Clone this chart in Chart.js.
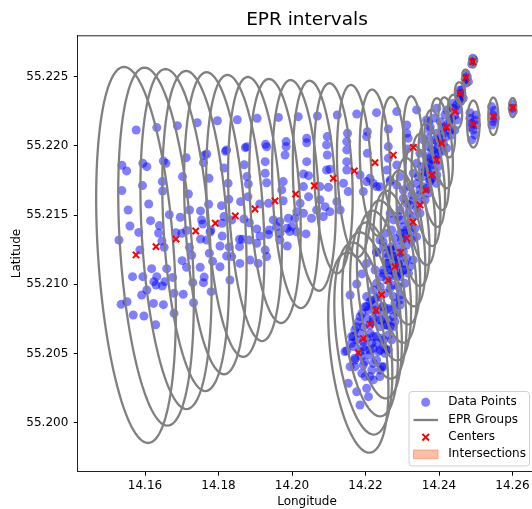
<!DOCTYPE html>
<html>
<head>
<meta charset="utf-8">
<script src="https://cdn.jsdelivr.net/npm/chart.js@4.4.0/dist/chart.umd.min.js"></script>
<style>
  html, body { margin: 0; padding: 0; background: #fff; overflow: hidden; }
  #chart { display: block; }
</style>
</head>
<body>
<canvas id="chart" width="545" height="509"></canvas>
<script>
// axis ticks
const xTicks = [14.16, 14.18, 14.20, 14.22, 14.24, 14.26];
const yTicks = [55.200, 55.205, 55.210, 55.215, 55.220, 55.225];

// observed positions
const pointLon = [
  14.1576, 14.1632, 14.1688, 14.1742, 14.1797, 14.1851, 14.1905, 14.1537, 14.1550, 14.1594,
  14.1605, 14.1650, 14.1657, 14.1712, 14.1761, 14.1768, 14.1819, 14.1822, 14.1873, 14.1877,
  14.1928, 14.1931, 14.1702, 14.1759, 14.1815, 14.1870, 14.1927, 14.1593, 14.1647, 14.1648,
  14.1537, 14.1718, 14.1774, 14.1826, 14.1877, 14.1881, 14.1927, 14.1931, 14.1554, 14.1610,
  14.1666, 14.1721, 14.1751, 14.1773, 14.1808, 14.1828, 14.1860, 14.1880, 14.1912, 14.1936,
  14.1559, 14.1583, 14.1615, 14.1637, 14.1639, 14.1696, 14.1713, 14.1754, 14.1757, 14.1779,
  14.1810, 14.1815, 14.1836, 14.1857, 14.1869, 14.1884, 14.1904, 14.1938, 14.1529, 14.1586,
  14.1646, 14.1652, 14.1684, 14.1700, 14.1721, 14.1751, 14.1768, 14.1777, 14.1804, 14.1810,
  14.1829, 14.1857, 14.1865, 14.1883, 14.1904, 14.1913, 14.1936, 14.1566, 14.1594, 14.1618,
  14.1632, 14.1659, 14.1675, 14.1701, 14.1713, 14.1727, 14.1750, 14.1761, 14.1775, 14.1784,
  14.1804, 14.1822, 14.1836, 14.1858, 14.1886, 14.1908, 14.1927, 14.1931,
  14.1730, 14.1759, 14.1831, 14.1605, 14.1591, 14.1624, 14.1630, 14.1647, 14.1654, 14.1679,
  14.1704, 14.1732, 14.1780, 14.1535, 14.1551, 14.1623, 14.1650, 14.1568, 14.1597, 14.1679,
  14.1629,
  14.1963, 14.2017, 14.2069, 14.2123, 14.2176, 14.2230, 14.1984, 14.1984, 14.2040, 14.2040,
  14.2096, 14.2094, 14.2151, 14.2149, 14.2205, 14.2203, 14.1981, 14.2040, 14.2096, 14.2149,
  14.2205, 14.1976, 14.2031, 14.2045, 14.2094, 14.2103, 14.2149, 14.2149, 14.2185, 14.2203,
  14.2212, 14.1972, 14.2031, 14.2076, 14.2099, 14.2140, 14.2153, 14.2194, 14.2230, 14.1976,
  14.2022, 14.2045, 14.2076, 14.2090, 14.2122, 14.2131, 14.1949, 14.1967, 14.1990, 14.2013,
  14.2031, 14.2053, 14.2067, 14.2085, 14.2103, 14.1958, 14.1986, 14.1999, 14.2008, 14.1967,
  14.1994,
  14.1967, 14.1987, 14.2038, 14.2013, 14.2190, 14.2203, 14.2230,
  14.2285, 14.2339, 14.2394, 14.2262, 14.2312, 14.2312, 14.2371, 14.2376, 14.2262, 14.2316,
  14.2371, 14.2262, 14.2314, 14.2258, 14.2285, 14.2294, 14.2267,
  14.2492, 14.2493, 14.2489, 14.2495, 14.2473, 14.2477, 14.2471, 14.2480, 14.2457, 14.2462,
  14.2453, 14.2466, 14.2459, 14.2448, 14.2439, 14.2453, 14.2443, 14.2434, 14.2448, 14.2425,
  14.2416, 14.2430, 14.2412, 14.2421, 14.2434, 14.2443, 14.2403, 14.2394, 14.2412, 14.2398,
  14.2385, 14.2407, 14.2421, 14.2389, 14.2375, 14.2394, 14.2380, 14.2366, 14.2385, 14.2398,
  14.2371, 14.2357, 14.2380, 14.2394,
  14.2484, 14.2498, 14.2489, 14.2502, 14.2486, 14.2493, 14.2498, 14.2489, 14.2484, 14.2501,
  14.2543, 14.2550, 14.2546, 14.2553, 14.2548, 14.2544, 14.2600, 14.2599, 14.2602,
  14.2221, 14.2239, 14.2267, 14.2285, 14.2303, 14.2339, 14.2357, 14.2375, 14.2393, 14.2371,
  14.2348, 14.2330, 14.2344, 14.2362, 14.2312, 14.2294, 14.2317, 14.2330, 14.2348, 14.2321,
  14.2335, 14.2303, 14.2307, 14.2298, 14.2285, 14.2312, 14.2326, 14.2339, 14.2267, 14.2280,
  14.2294, 14.2312, 14.2330, 14.2258, 14.2276, 14.2289, 14.2303, 14.2317, 14.2321, 14.2248,
  14.2267, 14.2285, 14.2230, 14.2248, 14.2253, 14.2271, 14.2276, 14.2289, 14.2267, 14.2226,
  14.2176, 14.2158, 14.2240, 14.2267, 14.2294, 14.2203, 14.2217, 14.2230, 14.2221, 14.2199,
  14.2208, 14.2230, 14.2249, 14.2244, 14.2262, 14.2280, 14.2294, 14.2276, 14.2262, 14.2240,
  14.2221, 14.2185, 14.2181, 14.2194, 14.2212, 14.2240, 14.2253, 14.2267, 14.2280, 14.2171,
  14.2162, 14.2176, 14.2194, 14.2203, 14.2221, 14.2244, 14.2262, 14.2271, 14.2217, 14.2230,
  14.2249, 14.2262, 14.2149, 14.2167, 14.2185, 14.2199, 14.2221, 14.2240, 14.2253, 14.2171,
  14.2189, 14.2212, 14.2230, 14.2249, 14.2194, 14.2171, 14.2217, 14.2240, 14.2199, 14.2221,
  14.2153, 14.2176, 14.2203, 14.2208, 14.2185,
  14.2239, 14.2249, 14.2258, 14.2271, 14.2280, 14.2289, 14.2262, 14.2249, 14.2267, 14.2280,
  14.2294, 14.2303, 14.2244, 14.2230, 14.2258, 14.2271, 14.2289, 14.2307, 14.2221, 14.2235,
  14.2253, 14.2276, 14.2294, 14.2212, 14.2203, 14.2226, 14.2249, 14.2267, 14.2285, 14.2190,
  14.2203, 14.2221, 14.2244, 14.2258, 14.2276, 14.2176, 14.2185, 14.2212, 14.2230, 14.2249,
  14.2167, 14.2162, 14.2194, 14.2212, 14.2235, 14.2258, 14.2144, 14.2171, 14.2198, 14.2221,
  14.2244, 14.2158, 14.2190, 14.2212, 14.2239,
  14.2366, 14.2385, 14.2403, 14.2375, 14.2394, 14.2412, 14.2357, 14.2371, 14.2389, 14.2407,
  14.2348, 14.2366, 14.2380, 14.2398, 14.2339, 14.2353, 14.2371, 14.2385, 14.2330, 14.2344,
  14.2362, 14.2375, 14.2416, 14.2430, 14.2421, 14.2439, 14.2455, 14.2462, 14.2473,
  14.2321, 14.2348, 14.2366, 14.2326, 14.2303, 14.2321, 14.2339, 14.2298, 14.2312, 14.2294,
  14.2321, 14.2280, 14.2303, 14.2271, 14.2289, 14.2303, 14.2262, 14.2271, 14.2294, 14.2307
];
const pointLat = [
  55.22115, 55.22132, 55.22146, 55.22168, 55.22182, 55.22189, 55.22199, 55.21860, 55.21819, 55.21874,
  55.21850, 55.21891, 55.21874, 55.21915, 55.21932, 55.21941, 55.21961, 55.21970, 55.21987, 55.21994,
  55.22011, 55.21994, 55.21778, 55.21879, 55.21840, 55.21864, 55.21886, 55.21713, 55.21742, 55.21674,
  55.21677, 55.21652, 55.21766, 55.21730, 55.21778, 55.21725, 55.21802, 55.21734, 55.21537, 55.21580,
  55.21503, 55.21537, 55.21530, 55.21578, 55.21568, 55.21614, 55.21597, 55.21633, 55.21580, 55.21585,
  55.21421, 55.21375, 55.21460, 55.21371, 55.21424, 55.21484, 55.21388, 55.21465, 55.21436, 55.21390,
  55.21441, 55.21489, 55.21465, 55.21325, 55.21472, 55.21445, 55.21400, 55.21392, 55.21320, 55.21248,
  55.21313, 55.21267, 55.21373, 55.21368, 55.21267, 55.21327, 55.21320, 55.21378, 55.21277, 55.21349,
  55.21270, 55.21272, 55.21325, 55.21320, 55.21296, 55.21349, 55.21359, 55.21055, 55.21055, 55.21113,
  55.21055, 55.21113, 55.21050, 55.21171, 55.21123, 55.21209, 55.21123, 55.21052, 55.21224, 55.21166,
  55.21127, 55.21204, 55.21200, 55.21151, 55.21175, 55.21151, 55.21248, 55.21200,
  55.21012, 55.21012, 55.21031, 55.20959, 55.20923, 55.21019, 55.20995, 55.20988, 55.21019, 55.20935,
  55.20928, 55.20867, 55.20947, 55.20855, 55.20874, 55.20862, 55.20853, 55.20778, 55.20771, 55.20790,
  55.20708,
  55.22206, 55.22211, 55.22216, 55.22223, 55.22230, 55.22240, 55.22031, 55.21995, 55.22055, 55.22023,
  55.22067, 55.22007, 55.22091, 55.22031, 55.22103, 55.22067, 55.21934, 55.21886, 55.21934, 55.21971,
  55.21946, 55.21742, 55.21797, 55.21785, 55.21826, 55.21831, 55.21886, 55.21826, 55.21790, 55.21742,
  55.21766, 55.21682, 55.21706, 55.21706, 55.21701, 55.21730, 55.21670, 55.21670, 55.21706, 55.21604,
  55.21585, 55.21633, 55.21610, 55.21561, 55.21597, 55.21537, 55.21465, 55.21453, 55.21477, 55.21525,
  55.21513, 55.21477, 55.21537, 55.21489, 55.21525, 55.21417, 55.21405, 55.21417, 55.21477, 55.21369,
  55.21381,
  55.21320, 55.21277, 55.21364, 55.21380, 55.21075, 55.21152, 55.21229,
  55.22248, 55.22260, 55.22272, 55.22122, 55.22151, 55.22091, 55.22175, 55.22139, 55.21995, 55.22055,
  55.22055, 55.21910, 55.21978, 55.21826, 55.21862, 55.21778, 55.21754,
  55.22633, 55.22609, 55.22592, 55.22621, 55.22524, 55.22500, 55.22481, 55.22464, 55.22404, 55.22380,
  55.22356, 55.22344, 55.22320, 55.22296, 55.22272, 55.22260, 55.22223, 55.22199, 55.22187, 55.22163,
  55.22139, 55.22115, 55.22091, 55.22067, 55.22079, 55.22115, 55.22055, 55.22031, 55.22019, 55.21995,
  55.21971, 55.21959, 55.21983, 55.21934, 55.21910, 55.21898, 55.21862, 55.21838, 55.21826, 55.21850,
  55.21802, 55.21778, 55.21766, 55.21790,
  55.22199, 55.22187, 55.22163, 55.22151, 55.22134, 55.22115, 55.22079, 55.22043, 55.22240, 55.22223,
  55.22284, 55.22255, 55.22223, 55.22199, 55.22175, 55.22151, 55.22303, 55.22272, 55.22248,
  55.21729, 55.21705, 55.21742, 55.21717, 55.21681, 55.21729, 55.21705, 55.21742, 55.21729, 55.21657,
  55.21645, 55.21609, 55.21585, 55.21609, 55.21585, 55.21537, 55.21513, 55.21489, 55.21513, 55.21441,
  55.21404, 55.21416, 55.21368, 55.21320, 55.21272, 55.21284, 55.21320, 55.21344, 55.21248, 55.21200,
  55.21224, 55.21188, 55.21176, 55.21152, 55.21128, 55.21140, 55.21103, 55.21079, 55.21128, 55.21079,
  55.21055, 55.21055, 55.21236, 55.21308, 55.21368, 55.21392, 55.21465, 55.21489, 55.21513, 55.21103,
  55.21002, 55.20923, 55.20983, 55.20971, 55.20923, 55.20911, 55.20887, 55.20899, 55.20851, 55.20838,
  55.20814, 55.20790, 55.20802, 55.20838, 55.20826, 55.20862, 55.20850, 55.20766, 55.20742, 55.20742,
  55.20754, 55.20766, 55.20730, 55.20694, 55.20706, 55.20694, 55.20706, 55.20694, 55.20730, 55.20670,
  55.20622, 55.20598, 55.20586, 55.20610, 55.20622, 55.20610, 55.20634, 55.20598, 55.20574, 55.20574,
  55.20550, 55.20525, 55.20520, 55.20550, 55.20513, 55.20525, 55.20537, 55.20525, 55.20501, 55.20453,
  55.20477, 55.20489, 55.20453, 55.20405, 55.20417, 55.20405, 55.20381, 55.20381, 55.20333, 55.20309,
  55.20285, 55.20224, 55.20249, 55.20188, 55.20128,
  55.21320, 55.21272, 55.21224, 55.21248, 55.21200, 55.21152, 55.21152, 55.21103, 55.21103, 55.21079,
  55.21055, 55.21103, 55.21055, 55.21007, 55.21031, 55.20995, 55.20983, 55.21007, 55.20959, 55.20911,
  55.20935, 55.20911, 55.20887, 55.20875, 55.20839, 55.20815, 55.20839, 55.20815, 55.20802, 55.20790,
  55.20754, 55.20730, 55.20742, 55.20706, 55.20694, 55.20694, 55.20646, 55.20646, 55.20622, 55.20598,
  55.20622, 55.20574, 55.20550, 55.20526, 55.20514, 55.20526, 55.20514, 55.20466, 55.20441, 55.20429,
  55.20405, 55.20405, 55.20357, 55.20333, 55.20333,
  55.22187, 55.22199, 55.22175, 55.22115, 55.22091, 55.22127, 55.22043, 55.21995, 55.22043, 55.22043,
  55.21947, 55.21922, 55.21971, 55.21947, 55.21874, 55.21850, 55.21874, 55.21898, 55.21802, 55.21778,
  55.21814, 55.21754, 55.22223, 55.22187, 55.22259, 55.22308, 55.22332, 55.22404, 55.22452,
  55.21705, 55.21681, 55.21693, 55.21645, 55.21621, 55.21573, 55.21549, 55.21465, 55.21392, 55.21368,
  55.21380, 55.21332, 55.21332, 55.21272, 55.21188, 55.21236, 55.21200, 55.21103, 55.21079, 55.21152
];

// EPR groups: centre, half extent and tilt (lon shift per unit lat)
const groupLon = [
  14.15755, 14.16299, 14.16843, 14.17379, 14.17913, 14.18457, 14.18993, 14.19537, 14.20100, 14.20606,
  14.21123, 14.21695, 14.22258, 14.22756, 14.23300,
  14.21804, 14.21940, 14.22122, 14.22285, 14.22440, 14.22620, 14.22802, 14.22952, 14.23121, 14.23292,
  14.23483, 14.23646, 14.23801, 14.23937, 14.24073, 14.24209, 14.24435, 14.24571, 14.24734, 14.24917,
  14.24933, 14.25477, 14.26005
];
const groupLat = [
  55.21212, 55.21272, 55.21327, 55.21385, 55.21441, 55.21494, 55.21544, 55.21602, 55.21652, 55.21712,
  55.21766, 55.21819, 55.21879, 55.21934, 55.21990,
  55.20506, 55.20608, 55.20711, 55.20811, 55.20925, 55.21028, 55.21127, 55.21230, 55.21332, 55.21450,
  55.21573, 55.21681, 55.21790, 55.21898, 55.22019, 55.22134, 55.22247, 55.22380, 55.22493, 55.22608,
  55.22158, 55.22214, 55.22277
];
const groupHalfLon = [
  0.01034, 0.00980, 0.00925, 0.00871, 0.00816, 0.00762, 0.00707, 0.00680, 0.00626, 0.00571,
  0.00517, 0.00463, 0.00408, 0.00327, 0.00272,
  0.00762, 0.00735, 0.00707, 0.00653, 0.00626, 0.00571, 0.00544, 0.00490, 0.00463, 0.00408,
  0.00381, 0.00354, 0.00327, 0.00299, 0.00272, 0.00218, 0.00190, 0.00136, 0.00095, 0.00095,
  0.00171, 0.00136, 0.00095
];
const groupHalfLat = [
  0.013584, 0.012934, 0.012283, 0.011561, 0.010910, 0.010188, 0.009538, 0.008815, 0.008237, 0.007587,
  0.006864, 0.006214, 0.005275, 0.004191, 0.003685,
  0.007225, 0.006936, 0.006647, 0.006358, 0.006069, 0.005780, 0.005491, 0.005202, 0.004913, 0.004624,
  0.004335, 0.004046, 0.003757, 0.003613, 0.003251, 0.002168, 0.001228, 0.000795, 0.000578, 0.000412,
  0.001698, 0.001351, 0.000686
];
const groupTilt = [
  -0.241, -0.241, -0.233, -0.226, -0.218, -0.211, -0.203, -0.188, -0.170, -0.170,
  -0.151, -0.151, -0.151, -0.151, -0.151,
  -0.414, -0.414, -0.414, -0.414, -0.414, -0.414, -0.414, -0.414, -0.414, -0.414,
  -0.414, -0.414, -0.414, -0.414, -0.414, -0.301, -0.301, -0.301, -0.301, -0.301,
  0, 0, 0
];
// groups whose overlap is shaded
const overlapPair = [30, 31];

Chart.defaults.font.family = "'DejaVu Sans', sans-serif";
Chart.defaults.color = "#000";

function ellipsePath(c, chart, i) {
  const xs = chart.scales.x, ys = chart.scales.y;
  c.beginPath();
  for (let k = 0; k <= 120; k++) {
    const t = k / 120 * Math.PI * 2;
    const dLat = groupHalfLat[i] * Math.sin(t);
    const dLon = groupHalfLon[i] * Math.cos(t) + groupTilt[i] * dLat;
    const px = xs.getPixelForValue(groupLon[i] + dLon);
    const py = ys.getPixelForValue(groupLat[i] + dLat);
    if (k === 0) c.moveTo(px, py); else c.lineTo(px, py);
  }
  c.closePath();
}

function clipArea(c, a) {
  c.beginPath();
  c.rect(a.left, a.top, a.right - a.left, a.bottom - a.top);
  c.clip();
}

const eprPlugin = {
  id: "epr",
  beforeDatasetsDraw(chart) {
    const c = chart.ctx;
    c.save();
    clipArea(c, chart.chartArea);
    ellipsePath(c, chart, overlapPair[0]);
    c.clip();
    ellipsePath(c, chart, overlapPair[1]);
    c.fillStyle = "rgba(255, 127, 80, 0.5)";
    c.fill();
    c.restore();
  },
  afterDatasetDraw(chart, args) {
    if (args.index !== 1) return;
    const c = chart.ctx;
    c.save();
    clipArea(c, chart.chartArea);
    c.strokeStyle = "#808080";
    c.lineWidth = 2.3;
    for (let i = 0; i < groupLon.length; i++) {
      ellipsePath(c, chart, i);
      c.stroke();
    }
    c.restore();
  },
  afterDraw(chart) {
    const c = chart.ctx, a = chart.chartArea;
    c.save();
    // top and right spines
    c.strokeStyle = "#222";
    c.lineWidth = 1;
    c.beginPath();
    c.moveTo(a.left, a.top + 0.5);
    c.lineTo(a.right, a.top + 0.5);
    c.lineTo(a.right, a.bottom);
    c.stroke();

    // legend
    const lx = 409, ly = 391.5, lw = 120.5, lh = 74.5;
    c.beginPath();
    c.roundRect(lx, ly, lw, lh, 3);
    c.fillStyle = "rgba(255,255,255,0.8)";
    c.fill();
    c.strokeStyle = "#d0d0d0";
    c.stroke();

    const sx = 425.7, tx = 448.3;
    const rows = [402.3, 420, 437.2, 454.3];
    c.fillStyle = "rgba(0,0,255,0.5)";
    c.beginPath();
    c.arc(sx, rows[0], 4.5, 0, Math.PI * 2);
    c.fill();

    c.strokeStyle = "#808080";
    c.lineWidth = 2.3;
    c.beginPath();
    c.moveTo(413.5, rows[1]);
    c.lineTo(438, rows[1]);
    c.stroke();

    c.strokeStyle = "#ff0000";
    c.lineWidth = 2;
    c.beginPath();
    c.moveTo(sx - 3.3, rows[2] - 3.3); c.lineTo(sx + 3.3, rows[2] + 3.3);
    c.moveTo(sx - 3.3, rows[2] + 3.3); c.lineTo(sx + 3.3, rows[2] - 3.3);
    c.stroke();

    c.fillStyle = "rgba(255, 127, 80, 0.5)";
    c.strokeStyle = "rgba(255, 127, 80, 0.6)";
    c.lineWidth = 1;
    c.fillRect(413.5, rows[3] - 4.3, 24.5, 8.6);
    c.strokeRect(413.5, rows[3] - 4.3, 24.5, 8.6);

    c.fillStyle = "#000";
    c.font = "12px 'DejaVu Sans', sans-serif";
    c.textBaseline = "middle";
    c.textAlign = "left";
    ["Data Points", "EPR Groups", "Centers", "Intersections"].forEach((t, i) => c.fillText(t, tx, rows[i]));
    c.restore();
  }
};

new Chart(document.getElementById("chart"), {
  type: "scatter",
  data: {
    datasets: [
      {
        label: "Centers",
        data: groupLon.map((x, i) => ({ x, y: groupLat[i] })),
        pointStyle: "crossRot",
        pointRadius: 4.5,
        borderColor: "#ff0000",
        backgroundColor: "#ff0000",
        borderWidth: 2
      },
      {
        label: "Data Points",
        data: pointLon.map((x, i) => ({ x, y: pointLat[i] })),
        pointRadius: 4.5,
        borderWidth: 0,
        backgroundColor: "rgba(0, 0, 255, 0.5)"
      }
    ]
  },
  options: {
    responsive: false,
    animation: false,
    events: [],
    layout: { padding: { left: 0, right: 8.7, top: 0, bottom: 0 } },
    plugins: {
      legend: { display: false },
      tooltip: { enabled: false },
      title: {
        display: true,
        text: "EPR intervals",
        fullSize: false,
        color: "#000",
        font: { size: 18.5, weight: "normal" },
        padding: { top: 8.7, bottom: 4.4 }
      }
    },
    scales: {
      x: {
        type: "linear",
        min: 14.14168,
        max: 14.26647,
        afterBuildTicks: s => { s.ticks = xTicks.map(v => ({ value: v })); },
        afterFit: s => { s.height = 37.3; },
        ticks: { color: "#000", font: { size: 12 }, padding: 3, callback: v => v.toFixed(2) },
        grid: { drawOnChartArea: false, drawTicks: true, tickLength: 4, color: "#000" },
        border: { display: true, color: "#222", width: 1 },
        title: { display: true, text: "Longitude", color: "#000", font: { size: 12 }, padding: { top: 0, bottom: 0 } }
      },
      y: {
        type: "linear",
        min: 55.19646,
        max: 55.22799,
        afterBuildTicks: s => { s.ticks = yTicks.map(v => ({ value: v })); },
        afterFit: s => { s.width = 77.7; },
        ticks: { color: "#000", font: { size: 12 }, padding: 5.4, callback: v => v.toFixed(3) },
        grid: { drawOnChartArea: false, drawTicks: true, tickLength: 4, color: "#000" },
        border: { display: true, color: "#222", width: 1 },
        title: { display: true, text: "Latitude", color: "#000", font: { size: 12 }, padding: { top: 10, bottom: 0 } }
      }
    }
  },
  plugins: [eprPlugin]
});
</script>
</body>
</html>
